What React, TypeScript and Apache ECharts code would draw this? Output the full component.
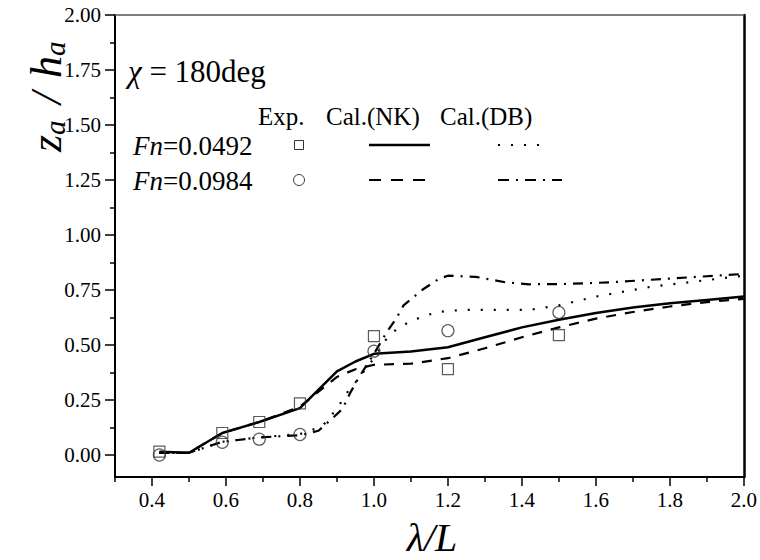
import React, { useEffect, useRef } from "react";
import * as echarts from "echarts";

const FONT = "'Liberation Serif', 'Times New Roman', serif";

// tick values
const xMajor = [0.4, 0.6, 0.8, 1.0, 1.2, 1.4, 1.6, 1.8, 2.0];
const xMinor = [0.3, 0.5, 0.7, 0.9, 1.1, 1.3, 1.5, 1.7, 1.9];
const yMajor = [0, 0.25, 0.5, 0.75, 1.0, 1.25, 1.5, 1.75, 2.0];
const yMinor = [0.125, 0.375, 0.625, 0.875, 1.125, 1.375, 1.625, 1.875];

// experiments
const expX = [0.42, 0.59, 0.69, 0.8, 1.0, 1.2, 1.5];
const expFn1 = [0.015, 0.1, 0.15, 0.235, 0.54, 0.39, 0.545];
const expFn2 = [0.0, 0.058, 0.072, 0.093, 0.472, 0.565, 0.648];

// Cal.(NK)
const nkX = [0.42, 0.5, 0.59, 0.69, 0.8, 0.9, 0.95, 1.0, 1.1, 1.2, 1.3, 1.4, 1.5, 1.6, 1.7, 1.8, 1.9, 2.0];
const nkFn1 = [0.015, 0.01, 0.1, 0.15, 0.213, 0.38, 0.425, 0.46, 0.47, 0.49, 0.535, 0.58, 0.615, 0.645, 0.67, 0.69, 0.705, 0.72];
const nkFn2 = [0.01, 0.01, 0.1, 0.15, 0.22, 0.355, 0.39, 0.41, 0.415, 0.44, 0.485, 0.535, 0.58, 0.62, 0.65, 0.675, 0.695, 0.71];

// Cal.(DB)
const dbX1 = [0.42, 0.5, 0.59, 0.69, 0.8, 0.86, 0.9, 0.93, 0.95, 1.0, 1.03, 1.06, 1.1, 1.17, 1.24, 1.31, 1.42, 1.5, 1.6, 1.75, 1.9, 2.0];
const dbFn1 = [0.01, 0.01, 0.06, 0.08, 0.095, 0.13, 0.21, 0.29, 0.33, 0.44, 0.52, 0.57, 0.61, 0.65, 0.66, 0.66, 0.66, 0.68, 0.72, 0.765, 0.795, 0.815];
const dbX2 = [0.42, 0.5, 0.59, 0.69, 0.8, 0.85, 0.89, 0.915, 0.935, 0.96, 1.0, 1.035, 1.06, 1.08, 1.13, 1.175, 1.2, 1.275, 1.355, 1.42, 1.51, 1.64, 1.78, 2.0];
const dbFn2 = [0.01, 0.01, 0.06, 0.08, 0.09, 0.11, 0.17, 0.21, 0.28, 0.355, 0.46, 0.56, 0.62, 0.68, 0.75, 0.8, 0.815, 0.81, 0.785, 0.776, 0.777, 0.785, 0.8, 0.823];

const pairs = (xs: number[], ys: number[]) => xs.map((x, i) => [x, ys[i]]);

const XMIN = 0.3, XMAX = 2.0, YMIN = -0.1, YMAX = 2.0;

export default function App() {
  const ref = useRef<HTMLDivElement>(null);
  useEffect(() => {
    document.body.style.margin = "0";
    const chart = echarts.init(ref.current!, null, { renderer: "svg" });
    const lineBase = { type: "line", showSymbol: false, symbol: "none", smooth: false, z: 3 };
    const subStyle = { fontFamily: FONT, fontStyle: "italic", fontSize: 29, fill: "#000" };
    const mainStyle = { fontFamily: FONT, fontStyle: "italic", fontSize: 44, fill: "#000" };
    chart.setOption({
      animation: false,
      backgroundColor: "#fff",
      grid: { left: 115, right: 14, top: 15, bottom: 83, containLabel: false },
      xAxis: [
        {
          type: "value", min: XMIN, max: XMAX, position: "bottom",
          axisLine: { show: true, onZero: false, lineStyle: { color: "#000", width: 2 } },
          axisTick: { show: true, inside: false, length: 9, customValues: xMajor, lineStyle: { color: "#000", width: 1.5 } },
          axisLabel: { show: true, customValues: xMajor, formatter: (v: number) => v.toFixed(1), fontFamily: FONT, fontSize: 21, color: "#000", margin: 12 },
          splitLine: { show: false },
        },
        {
          type: "value", min: XMIN, max: XMAX, position: "bottom",
          axisLine: { show: false, onZero: false },
          axisTick: { show: true, inside: false, length: 5, customValues: xMinor, lineStyle: { color: "#000", width: 1.5 } },
          axisLabel: { show: false },
          splitLine: { show: false },
        },
        {
          type: "value", min: XMIN, max: XMAX, position: "top",
          axisLine: { show: true, onZero: false, lineStyle: { color: "#555", width: 1.5 } },
          axisTick: { show: false }, axisLabel: { show: false }, splitLine: { show: false },
        },
      ],
      yAxis: [
        {
          type: "value", min: YMIN, max: YMAX, position: "left",
          axisLine: { show: true, onZero: false, lineStyle: { color: "#000", width: 2 } },
          axisTick: { show: true, inside: false, length: 10, customValues: yMajor, lineStyle: { color: "#000", width: 1.5 } },
          axisLabel: { show: true, customValues: yMajor, formatter: (v: number) => v.toFixed(2), fontFamily: FONT, fontSize: 21, color: "#000", margin: 14 },
          splitLine: { show: false },
        },
        {
          type: "value", min: YMIN, max: YMAX, position: "left",
          axisLine: { show: false, onZero: false },
          axisTick: { show: true, inside: false, length: 5, customValues: yMinor, lineStyle: { color: "#000", width: 1.5 } },
          axisLabel: { show: false }, splitLine: { show: false },
        },
        {
          type: "value", min: YMIN, max: YMAX, position: "right",
          axisLine: { show: true, onZero: false, lineStyle: { color: "#000", width: 2.5 } },
          axisTick: { show: false }, axisLabel: { show: false }, splitLine: { show: false },
        },
      ],
      series: [
        {
          name: "Exp. Fn=0.0492", type: "scatter", symbol: "rect", symbolSize: 11, z: 4,
          itemStyle: { color: "rgba(0,0,0,0)", borderColor: "#333", borderWidth: 1.2 },
          data: pairs(expX, expFn1),
        },
        {
          name: "Exp. Fn=0.0984", type: "scatter", symbol: "circle", symbolSize: 12, z: 4,
          itemStyle: { color: "rgba(0,0,0,0)", borderColor: "#333", borderWidth: 1.2 },
          data: pairs(expX, expFn2),
        },
        { ...lineBase, name: "NK 0.0492", data: pairs(nkX, nkFn1), lineStyle: { color: "#000", width: 2.5, type: "solid" } },
        { ...lineBase, name: "NK 0.0984", data: pairs(nkX, nkFn2), lineStyle: { color: "#000", width: 2.2, type: [10, 9] } },
        { ...lineBase, name: "DB 0.0492", data: pairs(dbX1, dbFn1), lineStyle: { color: "#000", width: 2.2, type: [2, 11] } },
        { ...lineBase, name: "DB 0.0984", data: pairs(dbX2, dbFn2), lineStyle: { color: "#000", width: 2.2, type: [10, 7, 2, 7] } },
      ],
      graphic: [
        // y axis title
        {
          type: "group", x: 46, y: 152, rotation: Math.PI / 2,
          children: [
            { type: "text", x: 0, y: 0, style: { ...mainStyle, text: "z", verticalAlign: "middle", align: "left" } },
            { type: "text", x: 17, y: 9, style: { ...subStyle, text: "a", verticalAlign: "middle", align: "left" } },
            { type: "text", x: 48, y: 0, style: { ...mainStyle, text: "/", verticalAlign: "middle", align: "left" } },
            { type: "text", x: 74, y: 0, style: { ...mainStyle, text: "h", verticalAlign: "middle", align: "left" } },
            { type: "text", x: 96, y: 9, style: { ...subStyle, text: "a", verticalAlign: "middle", align: "left" } },
          ],
        },
        // x axis title
        {
          type: "text", x: 432, y: 537,
          style: { text: "λ/L", fontFamily: FONT, fontStyle: "italic", fontSize: 40, fill: "#000", align: "center", verticalAlign: "middle" },
        },
        // chi label
        {
          type: "text", x: 128, y: 71,
          style: {
            text: "{i|χ}{n| = 180deg}", align: "left", verticalAlign: "middle",
            rich: {
              i: { fontFamily: FONT, fontStyle: "italic", fontSize: 31, fill: "#000" },
              n: { fontFamily: FONT, fontSize: 31, fill: "#000" },
            },
          },
        },
        // legend header
        { type: "text", x: 258, y: 116, style: { text: "Exp.", fontFamily: FONT, fontSize: 25, fill: "#000", verticalAlign: "middle" } },
        { type: "text", x: 326, y: 116, style: { text: "Cal.(NK)", fontFamily: FONT, fontSize: 25, fill: "#000", verticalAlign: "middle" } },
        { type: "text", x: 440, y: 116, style: { text: "Cal.(DB)", fontFamily: FONT, fontSize: 25, fill: "#000", verticalAlign: "middle" } },
        // legend rows
        {
          type: "text", x: 133, y: 146,
          style: {
            text: "{i|Fn}{n|=0.0492}", verticalAlign: "middle",
            rich: {
              i: { fontFamily: FONT, fontStyle: "italic", fontSize: 27, fill: "#000" },
              n: { fontFamily: FONT, fontSize: 27, fill: "#000" },
            },
          },
        },
        {
          type: "text", x: 133, y: 181,
          style: {
            text: "{i|Fn}{n|=0.0984}", verticalAlign: "middle",
            rich: {
              i: { fontFamily: FONT, fontStyle: "italic", fontSize: 27, fill: "#000" },
              n: { fontFamily: FONT, fontSize: 27, fill: "#000" },
            },
          },
        },
        { type: "rect", shape: { x: 294.5, y: 140.5, width: 9, height: 9 }, style: { fill: "none", stroke: "#333", lineWidth: 1 } },
        { type: "circle", shape: { cx: 299, cy: 180, r: 5.5 }, style: { fill: "none", stroke: "#333", lineWidth: 1 } },
        { type: "line", shape: { x1: 369, y1: 145, x2: 430, y2: 145 }, style: { stroke: "#000", lineWidth: 2.5 } },
        { type: "line", shape: { x1: 369, y1: 180, x2: 425, y2: 180 }, style: { stroke: "#000", lineWidth: 2.2, lineDash: [12, 10] } },
        { type: "line", shape: { x1: 498, y1: 145, x2: 550, y2: 145 }, style: { stroke: "#000", lineWidth: 2.2, lineDash: [2, 11] } },
        { type: "line", shape: { x1: 498, y1: 180, x2: 562, y2: 180 }, style: { stroke: "#000", lineWidth: 2.2, lineDash: [11, 7, 2, 7] } },
      ],
    });
    return () => chart.dispose();
  }, []);
  return <div ref={ref} style={{ width: 760, height: 560 }} />;
}
